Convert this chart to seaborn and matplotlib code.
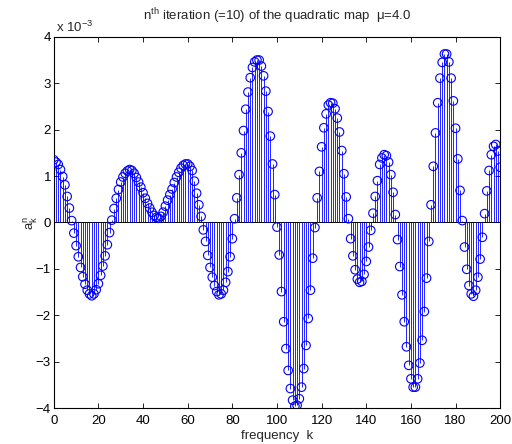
import matplotlib
matplotlib.use("Agg")
import matplotlib.pyplot as plt
import numpy as np
import pandas as pd
import seaborn as sns

# coefficients a_k^n in units of 1e-3, k = 0 .. 200
coef_0_49 = [
    1.35, 1.30, 1.25, 1.14, 0.99, 0.81, 0.56, 0.31, 0.04, -0.23,
    -0.50, -0.74, -0.97, -1.17, -1.33, -1.46, -1.54, -1.58, -1.54, -1.45,
    -1.32, -1.14, -0.94, -0.72, -0.48, -0.22, 0.05, 0.30, 0.52, 0.71,
    0.87, 0.98, 1.06, 1.11, 1.14, 1.12, 1.06, 0.97, 0.87, 0.76,
    0.64, 0.52, 0.41, 0.31, 0.22, 0.15, 0.11, 0.09, 0.13, 0.22,
]
coef_50_99 = [
    0.35, 0.48, 0.60, 0.72, 0.86, 0.98, 1.08, 1.17, 1.23, 1.26,
    1.26, 1.21, 1.12, 0.89, 0.63, 0.38, 0.13, -0.16, -0.41, -0.71,
    -0.97, -1.18, -1.36, -1.49, -1.56, -1.54, -1.46, -1.29, -1.06, -0.74,
    -0.35, 0.08, 0.53, 1.03, 1.50, 1.98, 2.44, 2.81, 3.12, 3.34,
    3.46, 3.50, 3.50, 3.37, 3.16, 2.83, 2.39, 1.86, 1.26, 0.60,
]
coef_100_149 = [
    -0.10, -0.70, -1.49, -2.14, -2.72, -3.19, -3.58, -3.83, -3.96, -3.94,
    -3.80, -3.55, -3.15, -2.65, -2.07, -1.46, -0.77, -0.11, 0.53, 1.10,
    1.63, 2.04, 2.34, 2.53, 2.58, 2.57, 2.45, 2.25, 1.95, 1.55,
    1.05, 0.55, 0.08, -0.35, -0.72, -1.02, -1.22, -1.29, -1.27, -1.12,
    -0.84, -0.53, -0.17, 0.20, 0.56, 0.90, 1.25, 1.39, 1.46, 1.44,
]
coef_150_200 = [
    1.30, 1.03, 0.65, 0.17, -0.37, -0.95, -1.56, -2.14, -2.68, -3.08,
    -3.37, -3.55, -3.55, -3.37, -3.03, -2.54, -1.92, -1.20, -0.41, 0.38,
    1.21, 1.93, 2.58, 3.11, 3.45, 3.63, 3.63, 3.46, 3.11, 2.62,
    2.03, 1.37, 0.69, 0.04, -0.53, -1.01, -1.36, -1.54, -1.59, -1.46,
    -1.18, -0.79, -0.32, 0.19, 0.68, 1.12, 1.46, 1.64, 1.68, 1.54,
    1.19,
]

x_ticks = [0, 20, 40, 60, 80, 100, 120, 140, 160, 180, 200]
y_ticks = [-4, -3, -2, -1, 0, 1, 2, 3, 4]

coef = coef_0_49 + coef_50_99 + coef_100_149 + coef_150_200
df = pd.DataFrame({"k": np.arange(len(coef)), "a": coef})

sns.set_style("ticks", {"xtick.direction": "in", "ytick.direction": "in"})
plt.rcParams["font.family"] = ["Liberation Sans", "DejaVu Sans"]
plt.rcParams["mathtext.fontset"] = "custom"
plt.rcParams["mathtext.rm"] = "Liberation Sans"
plt.rcParams["mathtext.it"] = "Liberation Sans"

fs = 9.5

fig, ax = plt.subplots(figsize=(5.12, 4.44), dpi=100)
fig.subplots_adjust(left=0.105, right=0.977, bottom=0.081, top=0.917)

# stems + baseline, then the open circles
ax.vlines(df["k"], 0, df["a"], color="blue", lw=0.6, zorder=2)
ax.axhline(0, color="black", lw=0.7, zorder=1)
sns.scatterplot(data=df, x="k", y="a", ax=ax, marker="o", s=38,
                fc="none", ec="blue", linewidth=0.8, zorder=3, legend=False)

ax.set_xlim(0, 200)
ax.set_ylim(-4, 4)
ax.set_xticks(x_ticks)
ax.set_yticks(y_ticks)
ax.set_yticklabels([str(t).replace("-", "\u2212") for t in y_ticks])
ax.tick_params(direction="in", top=True, right=True, length=3.5, width=0.6,
               labelsize=fs, pad=2, colors="black")
ax.tick_params(axis="x", pad=5)
for s in ax.spines.values():
    s.set_linewidth(0.8)
    s.set_color("black")

ax.set_xlabel("frequency  k", fontsize=fs, labelpad=2)
ax.set_ylabel(r"$\mathregular{a_k^n}$", fontsize=fs, labelpad=-3)
ax.set_title(r"$\mathregular{n^{th}}$ iteration (=10) of the quadratic map  μ=4.0",
             fontsize=fs, pad=12)
ax.text(0.005, 1.006, r"x 10$\mathregular{^{-3}}$", transform=ax.transAxes,
        fontsize=fs, va="bottom", ha="left")

fig.savefig("out.png", dpi=100)
